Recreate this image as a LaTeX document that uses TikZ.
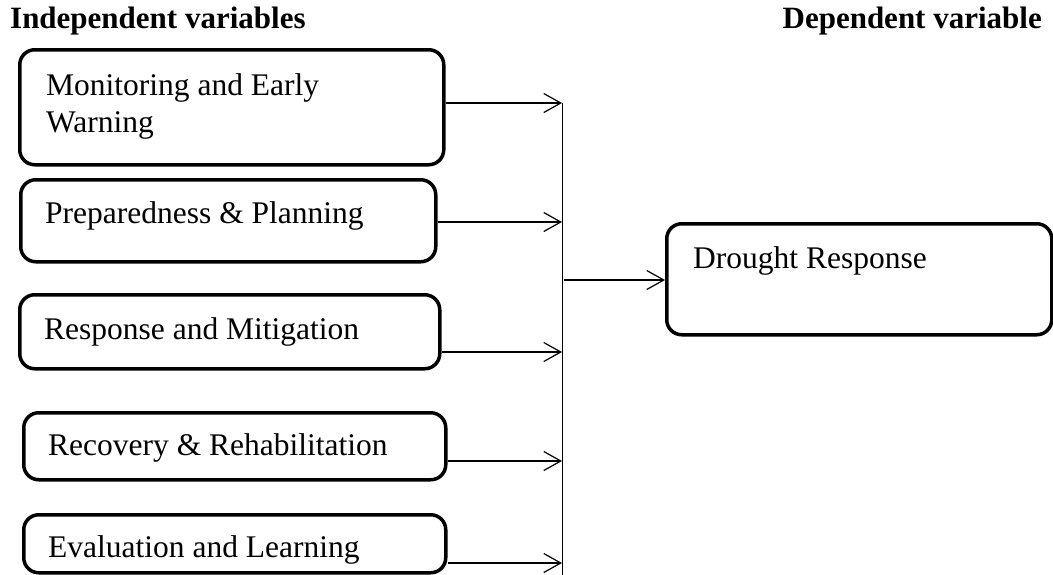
\documentclass[tikz,border=0pt]{standalone}
\usepackage{fontspec}
\setmainfont{Liberation Serif}
\usetikzlibrary{arrows.meta}
\begin{document}
\begin{tikzpicture}[x=1pt,y=-1pt,
  box/.style={draw, line width=3.5pt, rounded corners=15pt, inner sep=0pt, anchor=north west},
  lbl/.style={anchor=base west, inner sep=0pt, font=\fontsize{31.5}{37}\selectfont},
  ttl/.style={inner sep=0pt, font=\fontsize{31}{37}\selectfont\bfseries},
  arr/.style={line width=1.2pt, -{Straight Barb[length=17pt,width=19pt,line width=1.2pt]}},
  bus/.style={line width=1pt}]
\useasboundingbox (0,0) rectangle (1053,574);
% titles
\node[ttl, anchor=base west] (tl) at (10,28) {Independent variables};
\node[ttl, anchor=base east] (tr) at (1042,28) {Dependent variable};
% boxes
\node[box, minimum width=424pt, minimum height=115pt] (b1) at (18,48) {};
\node[lbl] (t1a) at (46,95) {Monitoring and Early};
\node[lbl] (t1b) at (46,132) {Warning};
\node[box, minimum width=415pt, minimum height=82pt] (b2) at (19,178) {};
\node[lbl] (t2) at (45,223) {Preparedness \& Planning};
\node[box, minimum width=420pt, minimum height=74pt] (b3) at (18,293) {};
\node[lbl] (t3) at (44,339) {Response and Mitigation};
\node[box, minimum width=422pt, minimum height=67pt] (b4) at (22,411) {};
\node[lbl] (t4) at (48,455) {Recovery \& Rehabilitation};
\node[box, minimum width=422pt, minimum height=58pt] (b5) at (22,513) {};
\node[lbl] (t5) at (48,557) {Evaluation and Learning};
\node[box, minimum width=385pt, minimum height=111pt] (dr) at (665,222) {};
\node[lbl] (t6) at (693,268) {Drought Response};
% bus line
\coordinate (top) at (562,103);
\coordinate (bot) at (562,576);
\draw[bus] (top) -- (bot);
\coordinate (p1) at (562,103);
\coordinate (p2) at (562,222);
\coordinate (p3) at (562,352);
\coordinate (p4) at (562,461);
\coordinate (p5) at (562,563);
\coordinate (q) at (564,280);
\draw[arr] (b1.east |- p1) -- (p1);
\draw[arr] (b2.east |- p2) -- (p2);
\draw[arr] (b3.east |- p3) -- (p3);
\draw[arr] (b4.east |- p4) -- (p4);
\draw[arr] (b5.east |- p5) -- (p5);
\draw[arr] (q) -- (dr.west |- q);
\end{tikzpicture}
\end{document}
